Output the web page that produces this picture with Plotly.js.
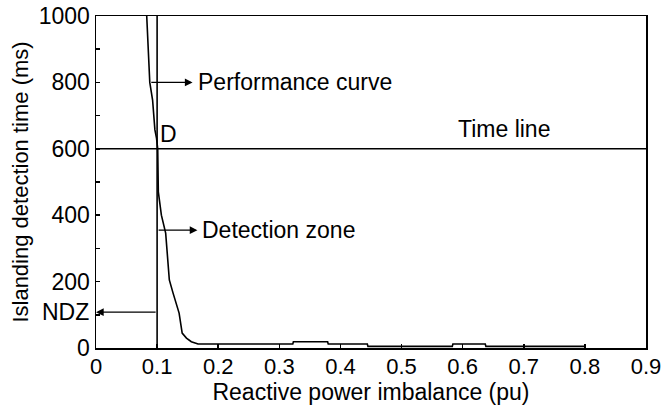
<!DOCTYPE html>
<html>
<head>
<meta charset="utf-8">
<script src="https://cdn.plot.ly/plotly-3.0.1.min.js"></script>
<style>html,body{margin:0;padding:0;background:#fff;}#chart{width:665px;height:405px;}</style>
</head>
<body>
<div id="chart"></div>
<script>
// Performance curve (reactive power imbalance pu vs detection time ms)
const curveX = [0.083, 0.0855, 0.088, 0.0926, 0.0964, 0.099, 0.101, 0.102, 0.1035, 0.107, 0.114, 0.120, 0.126, 0.132, 0.136, 0.141, 0.148, 0.156, 0.167, 0.322, 0.323, 0.379, 0.380, 0.444, 0.445, 0.583, 0.584, 0.637, 0.638, 0.8];
const curveY = [1000, 898, 800, 747, 657, 632, 600, 470, 446, 400, 346, 205, 166, 130, 105, 45, 30, 19, 12, 12, 19, 19, 12, 12, 5, 5, 12, 12, 5, 5];
// Reference lines
const ndzBoundary = 0.1;     // vertical line at NDZ limit
const timeLine = 600;        // time line (ms)
const ndzLevel = 108;        // NDZ arrow level
// Axis ticks
const xTickVals = [0, 0.1, 0.2, 0.3, 0.4, 0.5, 0.6, 0.7, 0.8, 0.9];
const xTickLabels = ["0", "0.1", "0.2", "0.3", "0.4", "0.5", "0.6", "0.7", "0.8", "0.9"];
const yTickVals = [0, 200, 400, 600, 800, 1000];
const yTickLabels = ["0", "200", "400", "600", "800", "1000"];
// Annotation texts
const labelPerf = "Performance curve";
const labelDetect = "Detection zone";
const labelTime = "Time line";
const labelD = "D";
const labelNDZ = "NDZ";

const FONT = "Liberation Sans, Arial, sans-serif";
const FS = 22;

const traces = [
  {x: [ndzBoundary, ndzBoundary], y: [0, 1000], mode: 'lines', line: {color: '#000', width: 1.6}, hoverinfo: 'skip'},
  {x: [0, 0.9], y: [timeLine, timeLine], mode: 'lines', line: {color: '#000', width: 1.6}, hoverinfo: 'skip'},
  {x: curveX, y: curveY, mode: 'lines', line: {color: '#000', width: 1.6}}
];

const arrowBase = {text: '', showarrow: true, arrowhead: 2, arrowsize: 1.1, arrowwidth: 1.4, arrowcolor: '#000', axref: 'x', ayref: 'y'};

const layout = {
  width: 665, height: 405,
  margin: {l: 96, r: 19, t: 16, b: 57},
  paper_bgcolor: '#fff', plot_bgcolor: '#fff',
  showlegend: false,
  font: {family: FONT, size: FS, color: '#000'},
  xaxis: {
    range: [0, 0.9], tickvals: xTickVals, ticktext: xTickLabels,
    ticks: 'inside', ticklen: 4, tickwidth: 1.5, tickcolor: '#000',
    showline: true, linecolor: '#000', linewidth: 1.5, mirror: true,
    showgrid: false, zeroline: false, ticklabelstandoff: -2,
    tickfont: {family: FONT, size: FS, color: '#000'},
    title: {text: 'Reactive power imbalance (pu)', font: {family: FONT, size: 23, color: '#000'}, standoff: 0}
  },
  yaxis: {
    range: [0, 1000], tickvals: yTickVals, ticktext: yTickLabels,
    ticks: 'inside', ticklen: 4, tickwidth: 1.5, tickcolor: '#000',
    minor: {dtick: 100, ticks: 'inside', ticklen: 4, tickwidth: 1.5, tickcolor: '#000', showgrid: false},
    showline: true, linecolor: '#000', linewidth: 1.5, mirror: true,
    showgrid: false, zeroline: false,
    tickfont: {family: FONT, size: 23, color: '#000'},
    title: {text: 'Islanding detection time (ms)', font: {family: FONT, size: FS, color: '#000'}, standoff: 4}
  },
  annotations: [
    Object.assign({}, arrowBase, {x: 0.158, y: 800, ax: 0.088, ay: 800}),
    {x: 0.164, y: 800, xanchor: 'left', yanchor: 'middle', text: labelPerf, showarrow: false, font: {family: FONT, size: 23, color: '#000'}},
    Object.assign({}, arrowBase, {x: 0.166, y: 355, ax: 0.1, ay: 355}),
    {x: 0.170, y: 355, xanchor: 'left', yanchor: 'middle', text: labelDetect, showarrow: false, font: {family: FONT, size: 23, color: '#000'}},
    Object.assign({}, arrowBase, {x: 0.0, y: ndzLevel, ax: 0.1, ay: ndzLevel}),
    {x: 0, y: ndzLevel, xanchor: 'right', yanchor: 'middle', xshift: -5, text: labelNDZ, showarrow: false, font: {family: FONT, size: 23, color: '#000'}},
    {x: 0.118, y: 645, xanchor: 'center', yanchor: 'middle', text: labelD, showarrow: false, font: {family: FONT, size: 23, color: '#000'}},
    {x: 0.668, y: 661, xanchor: 'center', yanchor: 'middle', text: labelTime, showarrow: false, font: {family: FONT, size: 23, color: '#000'}}
  ]
};

Plotly.newPlot('chart', traces, layout, {staticPlot: true, displayModeBar: false});
</script>
</body>
</html>
